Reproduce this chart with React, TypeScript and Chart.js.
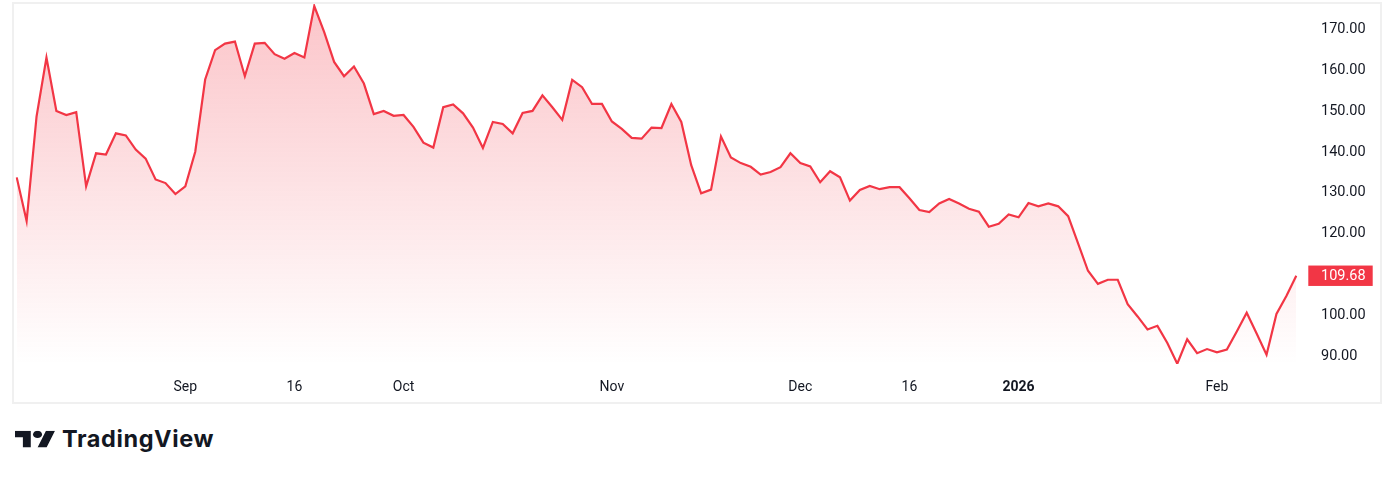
import React, { useEffect, useRef } from 'react';
import { Chart, registerables } from 'chart.js';

Chart.register(...registerables);

// Daily closing prices
const prices: number[] = [
  133.8, 123.1, 148.7, 163.2, 150.1, 149.1, 149.8, 131.6, 139.7, 139.4,
  144.6, 144.1, 140.6, 138.4, 133.3, 132.4, 129.7, 131.6, 140.1, 157.8,
  165.0, 166.6, 167.1, 158.6, 166.6, 166.8, 164.0, 162.9, 164.3, 163.2,
  175.8, 169.4, 162.1, 158.6, 161.0, 156.8, 149.3, 150.1, 148.9, 149.1,
  146.2, 142.3, 141.1, 151.0, 151.7, 149.5, 146.0, 141.0, 147.4, 146.9,
  144.6, 149.6, 150.1, 153.9, 151.0, 147.9, 157.7, 155.9, 151.8, 151.8,
  147.5, 145.7, 143.5, 143.3, 146.0, 145.9, 151.8, 147.4, 136.8, 129.9,
  130.8, 143.8, 138.7, 137.3, 136.4, 134.5, 135.1, 136.3, 139.7, 137.3,
  136.5, 132.6, 135.3, 133.8, 128.1, 130.7, 131.7, 130.9, 131.4, 131.4,
  128.7, 125.8, 125.3, 127.4, 128.5, 127.4, 126.1, 125.4, 121.7, 122.4,
  124.7, 124.0, 127.5, 126.7, 127.4, 126.7, 124.3, 117.6, 110.9, 107.7,
  108.7, 108.7, 102.7, 99.7, 96.5, 97.4, 93.2, 88.1, 94.1, 90.7,
  91.7, 90.9, 91.6, 96.0, 100.6, 95.5, 90.3, 100.3, 104.7, 109.68,
];

// x-axis tick labels and the bar index each one sits on
const tickLabels: string[] = ['Sep', '16', 'Oct', 'Nov', 'Dec', '16', '2026', 'Feb'];
const tickIndices: number[] = [17, 28, 39, 60, 79, 90, 101, 121];
const boldTickLabels: string[] = ['2026'];

// y-axis tick values
const yTicks: number[] = [90, 100, 110, 120, 130, 140, 150, 160, 170];
const Y_MIN = 88.04;
const Y_MAX = 176.31;

const categories: string[] = prices.map((_, i) => {
  const k = tickIndices.indexOf(i);
  return k >= 0 ? tickLabels[k] : '';
});

const FONT = 'Roboto';
const RED = '#f23645';
const TEXT = '#131722';

export default function App() {
  const ref = useRef<HTMLCanvasElement>(null);

  useEffect(() => {
    const canvas = ref.current!;
    const lastPricePlugin = {
      id: 'lastPrice',
      afterDraw(chart: any) {
        const ys = chart.scales.y;
        const ctx = chart.ctx;
        const last = prices[prices.length - 1];
        const py = ys.getPixelForValue(last);
        const tx = ys.left + 24.7;
        ctx.save();
        ctx.fillStyle = RED;
        ctx.fillRect(tx - 12.7, py - 10.2, 64.4, 20.4);
        ctx.fillStyle = '#ffffff';
        ctx.font = `14.5px ${FONT}`;
        ctx.textAlign = 'left';
        ctx.textBaseline = 'middle';
        ctx.fillText(last.toFixed(2), tx, py + 1);
        ctx.restore();
      },
    };

    const chart = new Chart(canvas, {
      type: 'line',
      data: {
        labels: categories,
        datasets: [
          {
            data: prices,
            borderColor: RED,
            borderWidth: 2.2,
            pointRadius: 0,
            tension: 0,
            fill: 'start',
            backgroundColor: (c: any) => {
              const { chartArea, ctx } = c.chart;
              if (!chartArea) return 'rgba(242,54,69,0.15)';
              const g = ctx.createLinearGradient(0, chartArea.top, 0, chartArea.bottom);
              g.addColorStop(0, 'rgba(242,54,69,0.29)');
              g.addColorStop(1, 'rgba(242,54,69,0.0)');
              return g;
            },
          },
        ],
      },
      options: {
        animation: false,
        responsive: false,
        maintainAspectRatio: false,
        layout: { padding: { left: 2.7, top: 0, right: 0, bottom: 0 } },
        plugins: { legend: { display: false }, tooltip: { enabled: false } },
        scales: {
          x: {
            grid: { display: false, drawTicks: false },
            border: { display: false },
            ticks: {
              autoSkip: false,
              maxRotation: 0,
              padding: 15,
              color: TEXT,
              font: (c: any) => ({
                family: FONT,
                size: 14,
                weight: boldTickLabels.includes(tickLabels[c.index]) ? 'bold' : 'normal',
              }),
            },
            afterBuildTicks: (s: any) => {
              s.ticks = tickIndices.map((v) => ({ value: v }));
            },
            afterFit: (s: any) => {
              s.height = 38;
              s.paddingLeft = 0;
              s.paddingRight = 0;
            },
          },
          y: {
            position: 'right',
            min: Y_MIN,
            max: Y_MAX,
            grid: { display: false, drawTicks: false },
            border: { display: false },
            ticks: {
              padding: 24.7,
              color: TEXT,
              font: { family: FONT, size: 14.5 },
              callback: (v: any) => Number(v).toFixed(2),
            },
            afterBuildTicks: (s: any) => {
              s.ticks = yTicks.map((v) => ({ value: v }));
            },
            afterFit: (s: any) => {
              s.width = 83.7;
              s.paddingTop = 0;
              s.paddingBottom = 0;
            },
          },
        },
      },
      plugins: [lastPricePlugin],
    } as any);
    return () => chart.destroy();
  }, []);

  return (
    <div style={{ position: 'absolute', left: 0, top: 0, width: 1394, height: 478, background: '#ffffff' }}>
      <div
        style={{
          position: 'absolute',
          left: 12,
          top: 2,
          width: 1370,
          height: 402,
          boxSizing: 'border-box',
          border: '2px solid #f0f0f0',
        }}
      />
      <canvas
        ref={ref}
        width={1366}
        height={398}
        style={{ position: 'absolute', left: 14, top: 4, width: 1366, height: 398 }}
      />
      <svg style={{ position: 'absolute', left: 0, top: 410 }} width={300} height={60}>
        <svg x={15} y={20.7} width={40} height={16.7} viewBox="0 4 35.5 18" preserveAspectRatio="none">
          <path d="M14 22H7V11H0V4h14v18zM28 22h-8l7.5-18h8L28 22z" fill={TEXT} />
          <circle cx="20" cy="8" r="4" fill={TEXT} />
        </svg>
        <text x={62} y={37.3} fontFamily="Inter" fontWeight={700} fontSize={23.5} letterSpacing={0.6} fill={TEXT}>
          TradingView
        </text>
      </svg>
    </div>
  );
}
